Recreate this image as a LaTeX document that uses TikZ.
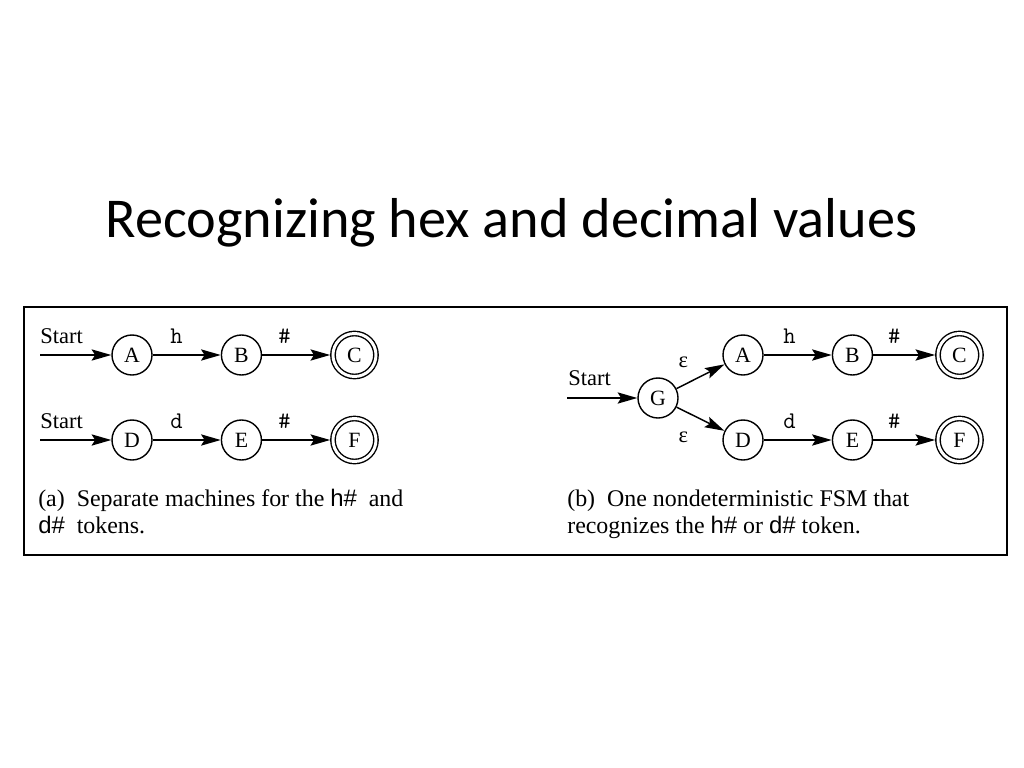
\documentclass[tikz,border=0pt]{standalone}
\usepackage{fontspec}
\setmainfont{Liberation Serif}
\newfontfamily\titlefont{Carlito}
\newfontfamily\tokfont{Liberation Sans}
\usetikzlibrary{positioning,arrows.meta}
\newcommand{\tok}[1]{{\tokfont #1}}

\begin{document}
\begin{tikzpicture}[
    x=0.025cm, y=-0.025cm,
    state/.style={draw, circle, line width=1pt, minimum size=1cm, inner sep=0pt, font=\fontsize{15.5}{17}\selectfont},
    accept/.style={state, double, double distance=2.1pt, minimum size=1.075cm, outer sep=2pt},
    lbl/.style={font=\fontsize{17}{19}\ttfamily, inner sep=0pt, anchor=base, yshift=8.5pt},
    eps/.style={font=\fontsize{16}{18}\selectfont, inner sep=0pt},
    startlbl/.style={anchor=base west, inner sep=0pt, font=\fontsize{16}{18}\selectfont},
    caption/.style={anchor=base west, inner sep=0pt, align=left, font=\fontsize{17}{18.5}\selectfont},
    trans/.style={->, line width=1.05pt},
    >={Stealth[length=14pt, width=8pt, inset=2.5pt]},
    node distance=1.7cm
  ]
    \useasboundingbox (0,0) rectangle (1024,768);
    \node[font=\titlefont\fontsize{40}{48}\selectfont, anchor=base] (title) at (511.5,237) {Recognizing hex and decimal values};
    \draw[line width=2.1pt] (24,307) rectangle (1007,555);

    % (a) two separate machines
    \node[state] (A1) at (132,355) {A};
    \node[state, right=of A1] (B1) {B};
    \node[accept, right=of B1] (C1) {C};
    \node[state] (D1) at (132,440) {D};
    \node[state, right=of D1] (E1) {E};
    \node[accept, right=of E1] (F1) {F};
    \node[startlbl] (st1) at (40,343) {Start};
    \node[startlbl] (st2) at (40,428) {Start};
    \coordinate (s1) at (40,355);
    \coordinate (s2) at (40,440);

    \draw[trans] (s1) -- (A1);
    \draw[trans] (A1) -- node[lbl, pos=0.35] {h} (B1);
    \draw[trans] (B1) -- node[lbl, pos=0.33] {\#} (C1);
    \draw[trans] (s2) -- (D1);
    \draw[trans] (D1) -- node[lbl, pos=0.35] {d} (E1);
    \draw[trans] (E1) -- node[lbl, pos=0.33] {\#} (F1);

    % (b) one nondeterministic machine
    \node[state] (G) at (658,398) {G};
    \node[state] (A2) at (743,355) {A};
    \node[state, right=of A2] (B2) {B};
    \node[accept, right=1.55cm of B2] (C2) {C};
    \node[state] (D2) at (743,440) {D};
    \node[state, right=of D2] (E2) {E};
    \node[accept, right=1.55cm of E2] (F2) {F};
    \node[startlbl] (st3) at (568,385) {Start};
    \coordinate (s3) at (567,398);

    \draw[trans] (s3) -- (G);
    \draw[trans] (G) -- node[eps, pos=0.2, above=11pt, xshift=-2pt] {ε} (A2);
    \draw[trans] (G) -- node[eps, pos=0.2, below=13.5pt, xshift=-2pt] {ε} (D2);
    \draw[trans] (A2) -- node[lbl, pos=0.38] {h} (B2);
    \draw[trans] (B2) -- node[lbl, pos=0.34] {\#} (C2);
    \draw[trans] (D2) -- node[lbl, pos=0.38] {d} (E2);
    \draw[trans] (E2) -- node[lbl, pos=0.34] {\#} (F2);

    % captions
    \node[caption] (capa) at (38,533) {(a)\ \ Separate machines for the \tok{h\#}\ \ and\\\tok{d\#}\ \ tokens.};
    \node[caption] (capb) at (567,533) {(b)\ \ One nondeterministic FSM that\\recognizes the \tok{h\#} or \tok{d\#} token.};
  \end{tikzpicture}
\end{document}
